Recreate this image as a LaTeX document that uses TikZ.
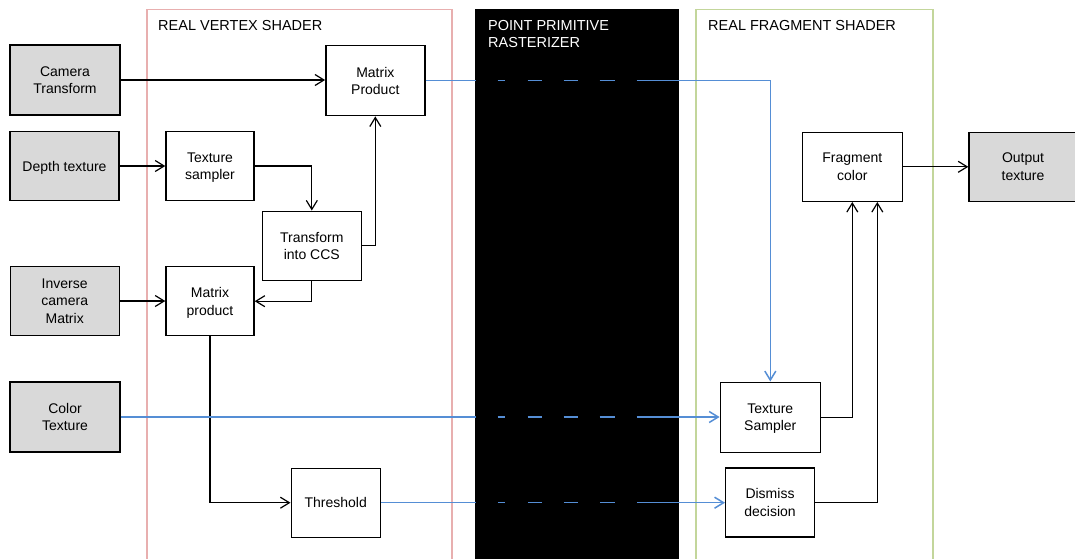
\documentclass[tikz,border=0pt]{standalone}
\usepackage{fontspec}
\setmainfont{Liberation Sans}
\usetikzlibrary{arrows.meta}
\definecolor{linkblue}{HTML}{558ED5}
\definecolor{vsred}{HTML}{E8AFAF}
\definecolor{fsgreen}{HTML}{C3D69B}
\definecolor{srcgray}{HTML}{D9D9D9}
\tikzset{
  txt/.style={font=\fontsize{14}{17.5}\selectfont, align=center},
  box/.style={txt, draw=black, line width=1.4pt, fill=white, inner sep=0pt, text depth=0pt},
  srcbox/.style={box, fill=srcgray},
  conn/.style={line width=1.2pt, -{Straight Barb[length=9pt,width=11pt]}},
  bconn/.style={conn, draw=linkblue, line width=1.5pt},
  thru/.style={dash pattern=on #1 off 22pt on 7pt off 23pt on 14pt off 22pt on 14pt off 22pt on 15pt off 22pt on 3000pt},
  frametitle/.style={font=\fontsize{14.5}{17.5}\selectfont, anchor=base west, inner sep=0pt, align=left}
}
\begin{document}
\begin{tikzpicture}[x=1pt,y=-1pt]
\useasboundingbox (0,0) rectangle (1075,558);
\clip (0,0) rectangle (1075,558);
% frames
\draw[vsred, line width=1.2pt] (147,9.5) rectangle (452,570);
\fill[black] (475,9) rectangle (679,570);
\draw[fsgreen, line width=1.2pt] (696,9.5) rectangle (933,570);
% titles
\node[frametitle] (vst) at (158,30) {REAL VERTEX SHADER};
\node[frametitle, text=white] (ppr) at (488,47.5) {POINT PRIMITIVE\\RASTERIZER};
\node[frametitle] (fst) at (708,30) {REAL FRAGMENT SHADER};
% source boxes
\node[srcbox, minimum width=110pt, minimum height=70pt] (cam) at (65,80) {Camera\\Transform};
\node[srcbox, minimum width=109pt, minimum height=69pt] (depth) at (64.5,166) {Depth texture};
\node[srcbox, minimum width=109pt, minimum height=69pt] (inv) at (64.7,301) {Inverse\\camera\\Matrix};
\node[srcbox, minimum width=110pt, minimum height=70pt] (col) at (65,417) {Color\\Texture};
\node[srcbox, minimum width=108pt, minimum height=69pt] (out) at (1023,166.8) {Output\\texture};
% vertex shader boxes
\node[box, minimum width=99pt, minimum height=70pt] (mp1) at (375.3,80.7) {Matrix\\Product};
\node[box, minimum width=88pt, minimum height=68.5pt] (ts1) at (210,166) {Texture\\sampler};
\node[box, minimum width=99pt, minimum height=69pt] (ccs) at (311.8,245.7) {Transform\\into CCS};
\node[box, minimum width=88pt, minimum height=69pt] (mp2) at (210,301.2) {Matrix\\product};
\node[box, minimum width=89pt, minimum height=69pt] (thr) at (335.7,502.7) {Threshold};
% fragment shader boxes
\node[box, minimum width=100pt, minimum height=70pt] (ts2) at (770.3,417.2) {Texture\\Sampler};
\node[box, minimum width=88.6pt, minimum height=69pt] (dis) at (770,502.5) {Dismiss\\decision};
\node[box, minimum width=100pt, minimum height=69pt] (fc) at (852.3,166.8) {Fragment\\color};
% connectors
\draw[conn] (cam.east) -- (cam.east -| mp1.west);
\draw[conn] (depth.east) -- (depth.east -| ts1.west);
\draw[conn] (ts1.east) -| (ccs.north);
\draw[conn] (ccs.east) -| (mp1.south);
\draw[conn] (ccs.south) |- (mp2.east);
\draw[conn] (inv.east) -- (inv.east -| mp2.west);
\draw[conn] (mp2.south) |- (thr.west);
\draw[bconn, thru=50pt] (mp1.east) -| (ts2.north);
\draw[bconn, thru=355pt] (col.east) -- (col.east -| ts2.west);
\draw[bconn, thru=95pt] (thr.east) -- (thr.east -| dis.west);
\draw[conn] (ts2.east) -| (fc.south);
\draw[conn] (dis.east) -| ([xshift=25pt]fc.south);
\draw[conn] (fc.east) -- (fc.east -| out.west);
\end{tikzpicture}
\end{document}
